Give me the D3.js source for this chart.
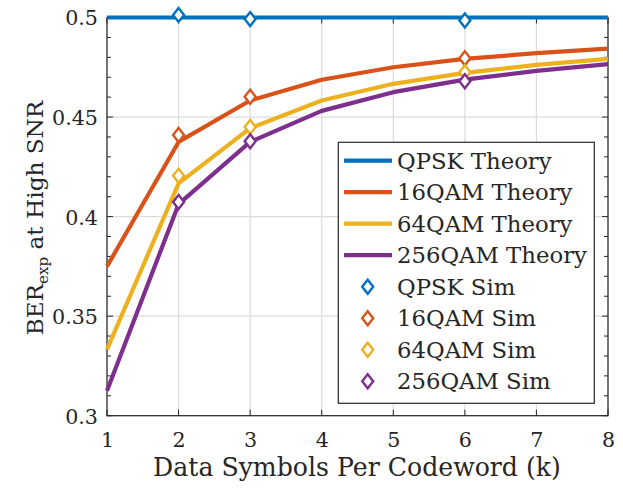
<!DOCTYPE html>
<html><head><meta charset="utf-8">
<script src="https://cdn.jsdelivr.net/npm/d3@7"></script>
<style>body{margin:0;background:#fff}svg{display:block}text{font-family:"DejaVu Serif",serif;fill:#262626}</style>
</head><body><svg id="c" width="623" height="488"></svg>
<script>
const ks = [1,2,3,4,5,6,7,8];
const qpskTheory  = [0.5,0.5,0.5,0.5,0.5,0.5,0.5,0.5];
const qam16Theory = [0.375,0.4375,0.4583,0.46875,0.475,0.4792,0.4821,0.4844];
const qam64Theory = [0.3333,0.4167,0.4444,0.4583,0.4667,0.4722,0.4762,0.4792];
const qam256Theory= [0.3125,0.40625,0.4375,0.4531,0.4625,0.4688,0.4732,0.4766];
const simK = [2,3,6];
const qpskSim  = [0.5013,0.4992,0.4985];
const qam16Sim = [0.4410,0.4602,0.4795];
const qam64Sim = [0.4205,0.4450,0.4725];
const qam256Sim= [0.4073,0.4378,0.4680];
const xTicks = [1,2,3,4,5,6,7,8];
const yTicks = [0.3,0.35,0.4,0.45,0.5];
const yTickLabels = ["0.3","0.35","0.4","0.45","0.5"];
const colors = ["#0072BD","#D95319","#EDB120","#7E2F8E"];
const theoryNames = ["QPSK Theory","16QAM Theory","64QAM Theory","256QAM Theory"];
const simNames = ["QPSK Sim","16QAM Sim","64QAM Sim","256QAM Sim"];

const svg = d3.select("#c");
const L=107, R=608, T=17.5, B=415.7;
const x = d3.scaleLinear().domain([1,8]).range([L,R]);
const y = d3.scaleLinear().domain([0.3,0.5]).range([B,T]);
const axc = "#262626";

// font size that makes `str` span `target` px
function fitSize(str, target){
  const t = svg.append("text").attr("font-size",20).text(str);
  const w = t.node().getComputedTextLength();
  t.remove();
  return 20*target/w;
}
const tickFS = fitSize("0.45", 46);
const labelFS = fitSize("Data Symbols Per Codeword (k)", 408);
const legFS = fitSize("256QAM Theory", 190);

// grid
svg.append("g").selectAll("line").data(xTicks).join("line")
  .attr("x1",d=>x(d)).attr("x2",d=>x(d)).attr("y1",T).attr("y2",B)
  .attr("stroke","#dcdcdc").attr("stroke-width",1.2);
svg.append("g").selectAll("line").data(yTicks).join("line")
  .attr("y1",d=>y(d)).attr("y2",d=>y(d)).attr("x1",L).attr("x2",R)
  .attr("stroke","#dcdcdc").attr("stroke-width",1.2);

// ticks (inward) on all sides
const minorY = d3.range(30,51).map(v=>v/100);
const tk = svg.append("g").attr("stroke",axc).attr("stroke-width",1);
minorY.forEach(v=>{
  const major = Math.abs(v*20-Math.round(v*20))<1e-6;
  const len = major?6:4;
  tk.append("line").attr("x1",L).attr("x2",L+len).attr("y1",y(v)).attr("y2",y(v));
  tk.append("line").attr("x1",R).attr("x2",R-len).attr("y1",y(v)).attr("y2",y(v));
});
xTicks.forEach(v=>{
  tk.append("line").attr("x1",x(v)).attr("x2",x(v)).attr("y1",B).attr("y2",B-6);
  tk.append("line").attr("x1",x(v)).attr("x2",x(v)).attr("y1",T).attr("y2",T+6);
});

// axes box
svg.append("rect").attr("x",L).attr("y",T).attr("width",R-L).attr("height",B-T)
  .attr("fill","none").attr("stroke",axc).attr("stroke-width",1.2);

// tick labels
const xa = d3.axisBottom(x).tickValues(xTicks).tickSize(0).tickPadding(0).tickFormat(d3.format("d"));
const gx = svg.append("g").attr("transform",`translate(0,${B})`).call(xa);
gx.select(".domain").remove();
gx.selectAll("text").attr("y",31).attr("dy",0).attr("font-size",tickFS).style("font-family",'"DejaVu Serif",serif').attr("fill",axc);
const ya = d3.axisLeft(y).tickValues(yTicks).tickSize(0).tickPadding(0).tickFormat((d,i)=>yTickLabels[i]);
const gy = svg.append("g").attr("transform",`translate(${L},0)`).call(ya);
gy.select(".domain").remove();
gy.selectAll("text").attr("x",-9).attr("dy","0.36em").attr("font-size",tickFS).style("font-family",'"DejaVu Serif",serif').attr("fill",axc);

// lines
const series = [qpskTheory,qam16Theory,qam64Theory,qam256Theory];
const line = d3.line().x((d,i)=>x(ks[i])).y(d=>y(d));
series.forEach((s,i)=>{
  svg.append("path").datum(s).attr("d",line).attr("fill","none")
    .attr("stroke",colors[i]).attr("stroke-width",4.2).attr("stroke-linejoin","round");
});
// sim markers
const diamond = "M0,-7 L5.5,0 L0,7 L-5.5,0 Z";
const sims = [qpskSim,qam16Sim,qam64Sim,qam256Sim];
sims.forEach((s,i)=>{
  svg.append("g").selectAll("path").data(s).join("path")
    .attr("transform",(d,j)=>`translate(${x(simK[j])},${y(d)})`)
    .attr("d",diamond).attr("fill","#fff").attr("stroke",colors[i]).attr("stroke-width",2.4);
});

// axis labels
svg.append("text").attr("x",357).attr("y",476).attr("text-anchor","middle")
  .attr("font-size",labelFS).text("Data Symbols Per Codeword (k)");
const yl = svg.append("text").attr("transform",`translate(43,218) rotate(-90)`).attr("text-anchor","middle").attr("font-size",labelFS*0.92);
yl.append("tspan").text("BER");
yl.append("tspan").attr("font-size",labelFS*0.6).attr("dy",5).text("exp");
yl.append("tspan").attr("dy",-5).text(" at High SNR");

// legend
const lg = svg.append("g");
lg.append("rect").attr("x",338.3).attr("y",142.3).attr("width",594.3-338.3).attr("height",403.3-142.3)
  .attr("fill","#fff").attr("stroke",axc).attr("stroke-width",1.2);
const rowY = d3.range(8).map(i=>160.7+i*31.5);
theoryNames.forEach((n,i)=>{
  lg.append("line").attr("x1",344).attr("x2",392).attr("y1",rowY[i]).attr("y2",rowY[i])
    .attr("stroke",colors[i]).attr("stroke-width",4.2);
  lg.append("text").attr("x",397).attr("y",rowY[i]).attr("dy","0.36em").attr("font-size",legFS).text(n);
});
simNames.forEach((n,i)=>{
  lg.append("path").attr("transform",`translate(367.7,${rowY[i+4]})`).attr("d",diamond)
    .attr("fill","#fff").attr("stroke",colors[i]).attr("stroke-width",2.4);
  lg.append("text").attr("x",397).attr("y",rowY[i+4]).attr("dy","0.36em").attr("font-size",legFS).text(n);
});
</script></body></html>
